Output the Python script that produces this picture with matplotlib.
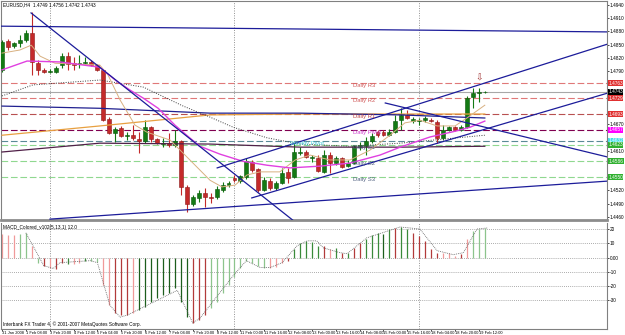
import numpy as np
import matplotlib
matplotlib.use('Agg')
import matplotlib.pyplot as plt
from matplotlib.transforms import blended_transform_factory

# EURUSD H4 candles, 31 Jan 2008 16:00 .. 19 Feb 2008 16:00
opens = [1.4793, 1.4858, 1.4847, 1.4854, 1.4860, 1.4876, 1.4808, 1.4793, 1.4788, 1.4788,
         1.4804, 1.4824, 1.4808, 1.4806, 1.4808, 1.4811, 1.4804, 1.4793, 1.4682, 1.4650,
         1.4661, 1.4643, 1.4645, 1.4636, 1.4632, 1.4663, 1.4636, 1.4625, 1.4627, 1.4623,
         1.4632, 1.4528, 1.4489, 1.4503, 1.4514, 1.4505, 1.4505, 1.4521, 1.4532, 1.4548,
         1.4541, 1.4550, 1.4584, 1.4568, 1.4521, 1.4541, 1.4525, 1.4537, 1.4562, 1.4550,
         1.4605, 1.4607, 1.4593, 1.4593, 1.4562, 1.4600, 1.4582, 1.4593, 1.4575, 1.4582,
         1.4618, 1.4620, 1.4632, 1.4652, 1.4652, 1.4645, 1.4652, 1.4679, 1.4691, 1.4677,
         1.4677, 1.4679, 1.4679, 1.4675, 1.4639, 1.4657, 1.4663, 1.4657, 1.4663, 1.4731,
         1.4740, 1.4743]
highs = [1.4860, 1.4863, 1.4856, 1.4872, 1.4883, 1.4924, 1.4815, 1.4797, 1.4795, 1.4802,
         1.4831, 1.4833, 1.4822, 1.4826, 1.4822, 1.4815, 1.4806, 1.4795, 1.4686, 1.4663,
         1.4666, 1.4652, 1.4668, 1.4652, 1.4679, 1.4666, 1.4639, 1.4639, 1.4650, 1.4657,
         1.4634, 1.4532, 1.4510, 1.4521, 1.4525, 1.4514, 1.4530, 1.4539, 1.4541, 1.4555,
         1.4555, 1.4593, 1.4589, 1.4571, 1.4550, 1.4548, 1.4541, 1.4571, 1.4571, 1.4627,
         1.4618, 1.4611, 1.4600, 1.4600, 1.4611, 1.4607, 1.4598, 1.4596, 1.4589, 1.4623,
         1.4630, 1.4641, 1.4650, 1.4657, 1.4657, 1.4659, 1.4691, 1.4706, 1.4702, 1.4686,
         1.4684, 1.4688, 1.4684, 1.4679, 1.4668, 1.4666, 1.4666, 1.4668, 1.4734, 1.4752,
         1.4752, 1.4745]
lows = [1.4788, 1.4838, 1.4842, 1.4845, 1.4856, 1.4781, 1.4781, 1.4786, 1.4786, 1.4786,
        1.4797, 1.4793, 1.4793, 1.4797, 1.4804, 1.4802, 1.4790, 1.4677, 1.4648, 1.4630,
        1.4641, 1.4634, 1.4634, 1.4605, 1.4627, 1.4630, 1.4625, 1.4618, 1.4618, 1.4618,
        1.4510, 1.4471, 1.4485, 1.4494, 1.4482, 1.4491, 1.4500, 1.4516, 1.4528, 1.4539,
        1.4537, 1.4546, 1.4562, 1.4516, 1.4519, 1.4521, 1.4521, 1.4534, 1.4537, 1.4548,
        1.4600, 1.4593, 1.4584, 1.4562, 1.4559, 1.4559, 1.4577, 1.4571, 1.4573, 1.4580,
        1.4611, 1.4600, 1.4627, 1.4641, 1.4643, 1.4643, 1.4650, 1.4657, 1.4682, 1.4673,
        1.4668, 1.4675, 1.4675, 1.4627, 1.4634, 1.4654, 1.4654, 1.4654, 1.4661, 1.4706,
        1.4720, 1.4741]
closes = [1.4856, 1.4845, 1.4854, 1.4860, 1.4876, 1.4811, 1.4793, 1.4788, 1.4790, 1.4797,
          1.4824, 1.4806, 1.4804, 1.4808, 1.4811, 1.4804, 1.4793, 1.4679, 1.4650, 1.4659,
          1.4643, 1.4645, 1.4639, 1.4632, 1.4663, 1.4636, 1.4627, 1.4627, 1.4623, 1.4632,
          1.4528, 1.4489, 1.4505, 1.4514, 1.4505, 1.4503, 1.4523, 1.4532, 1.4537, 1.4543,
          1.4553, 1.4586, 1.4566, 1.4521, 1.4543, 1.4525, 1.4537, 1.4559, 1.4548, 1.4607,
          1.4607, 1.4596, 1.4596, 1.4564, 1.4600, 1.4582, 1.4593, 1.4573, 1.4582, 1.4620,
          1.4623, 1.4632, 1.4643, 1.4645, 1.4645, 1.4652, 1.4677, 1.4691, 1.4684, 1.4682,
          1.4679, 1.4684, 1.4677, 1.4639, 1.4657, 1.4663, 1.4657, 1.4663, 1.4729, 1.4740,
          1.4743, 1.4743]

# moving averages (bar index, price)
ma_fast_idx = [0, 3, 4.9, 6.4, 8.9, 16.4, 17.8, 19.8, 22.3, 24.3, 28.2, 29.9, 32.4, 34.9, 36.9,
               39.1, 41.1, 43.3, 46.6, 49.2, 51.7, 55, 58.4, 61.7, 65.1, 67.6, 70.1, 73, 76, 78, 81]
ma_fast = [1.4831, 1.4838, 1.4849, 1.4824, 1.4808, 1.4804, 1.4781, 1.4725, 1.4668, 1.4652, 1.4634,
           1.4611, 1.4577, 1.4543, 1.4528, 1.4532, 1.4555, 1.4562, 1.4562, 1.4589, 1.4600, 1.4589,
           1.4589, 1.4611, 1.4645, 1.4673, 1.4679, 1.4666, 1.4666, 1.4684, 1.4713]
ma_mag_idx = [0, 4.2, 9.7, 16.4, 19, 21.5, 23.7, 26.2, 29, 31.5, 33.2, 36.6, 40.4, 44.5, 48.3,
              53.4, 58.4, 63.4, 66.8, 71.8, 76, 78.5, 81]
ma_mag = [1.4793, 1.4813, 1.4811, 1.4799, 1.4770, 1.4747, 1.4729, 1.4706, 1.4668, 1.4639, 1.4620,
          1.4602, 1.4586, 1.4577, 1.4571, 1.4575, 1.4582, 1.4600, 1.4618, 1.4641, 1.4654, 1.4663,
          1.4677]
ma_dot_idx = [0, 5.2, 16.4, 23.7, 30.4, 34.9, 38.8, 44.5, 50, 58.4, 66.8, 81]
ma_dot = [1.4734, 1.4759, 1.4770, 1.4754, 1.4711, 1.4686, 1.4663, 1.4639, 1.4625, 1.4620, 1.4627,
          1.4645]
ma_long_idx = [0, 16.4, 34.9, 50, 66.8, 81]
ma_orange = [1.4645, 1.4666, 1.4691, 1.4693, 1.4693, 1.4693]
ma_navy = [1.4711, 1.4706, 1.4695, 1.4695, 1.4691, 1.4684]
ma_purple = [1.4607, 1.4627, 1.4625, 1.4618, 1.4618, 1.4620]

# trend lines: (start idx, start price, end idx, end price)
trendlines = [(-0.2, 1.4892, 101.5, 1.4879),
              (4.87, 1.4922, 49.5, 1.4445),
              (8.05, 1.4455, 101.5, 1.4541),
              (36.1, 1.4571, 101.5, 1.4851),
              (41.9, 1.4503, 101.5, 1.4740),
              (64.3, 1.4718, 101.5, 1.4596)]

# pivot levels
level_names = ['Daily R3', 'Daily R2', 'Daily R1', 'Daily Pivot', 'Weekly Pivot',
               'Daily S1', 'Daily S2', 'Daily S3']
level_values = [1.4763, 1.4729, 1.4693, 1.4657, 1.4632, 1.4623, 1.4586, 1.4550]
level_label_x = [58.9, 58.9, 58.9, 58.9, 48.3, 58.9, 58.9, 58.9]
level_colors = ['#e07878', '#e07878', '#b85050', '#800050', '#5a8a96',
                '#90d890', '#90d890', '#90d890']
level_text = ['#d05a5a', '#d05a5a', '#c04848', '#d040d0', '#40c8d8',
              '#506080', '#506080', '#506080']
level_box = ['#e03030', '#e03030', '#e03030', '#ff00ff', '#40e0e8',
             '#30b030', '#30b030', '#30b030']
last_price = 1.4743

price_ticks = [1.4940, 1.4910, 1.4880, 1.4850, 1.4820, 1.4790, 1.4760, 1.4730, 1.4700,
               1.4670, 1.4640, 1.4610, 1.4580, 1.4550, 1.4520, 1.4490, 1.4460]
separators = [8, 39, 70]
time_ticks = list(range(0, 81, 4))
time_labels = ['31 Jan 2008', '1 Feb 08:00', '3 Feb 20:00', '4 Feb 12:00', '5 Feb 04:00',
               '5 Feb 20:00', '6 Feb 12:00', '7 Feb 04:00', '7 Feb 20:00', '8 Feb 12:00',
               '11 Feb 00:00', '11 Feb 16:00', '12 Feb 08:00', '13 Feb 00:00', '13 Feb 16:00',
               '14 Feb 08:00', '15 Feb 00:00', '15 Feb 16:00', '18 Feb 04:00', '18 Feb 20:00',
               '19 Feb 12:00']

# MACD histogram
macd = [16.7, 16.0, 16.0, 16.7, 17.4, 8.3, -4.0, -5.6, -7.0, -7.6,
        -3.5, -4.2, -4.2, -3.5, -2.1, -2.1, -2.8, -19.4, -33.3, -38.9,
        -40.3, -40.3, -38.9, -36.8, -34.7, -31.3, -28.5, -26.4, -25.0, -21.5,
        -31.3, -41.7, -45.8, -43.8, -40.3, -35.4, -31.3, -25.0, -19.4, -13.9,
        -6.9, -2.1, -3.5, -5.6, -6.9, -6.9, -6.3, -3.5, -2.1, 6.3,
        10.4, 11.8, 11.0, 8.3, 8.3, 6.3, 6.9, 3.5, 3.5, 6.9,
        10.4, 13.2, 16.0, 17.4, 16.7, 20.1, 20.8, 21.5, 20.1, 17.4,
        15.3, 11.8, 6.3, 3.5, 3.5, 3.5, 1.4, 2.8, 13.2, 18.8,
        20.1, 20.8]
macd_col = 'pppllplrprrgppgllpprrrpGGGGGGGGGrrrllllllllllppprgggggrpgrgrrgggGgrggrrrrrppprplllll'
signal_idx = [4, 5.2, 7, 8.6, 9.7, 14.8, 16, 18.1, 19.8, 21, 29.4, 32, 33.2, 38.8, 41, 43.3, 45,
              47, 49.5, 51.2, 52.8, 53.9, 56.7, 57.9, 61.2, 66.8, 70.1, 73, 75.7, 77.4, 79.7, 81.4]
signal = [17.4, 8.3, -5.6, -7.6, -3.5, -2.1, -3.5, -33.3, -41.7, -40.3, -22.9, -45.8, -42.4, -12.5,
          -2.1, -6.9, -6.9, -3.5, 8.3, 11.8, 11.8, 6.9, 3.5, 2.8, 13.9, 21.5, 20.1, 4.9, 2.1, 3.5,
          20.1, 20.8]
macd_ticks = [20, 10, 0, -10, -20, -30]
macd_tick_labels = ['20', '10', '0.00', '-10', '-20', '-30']

plt.rcParams['font.family'] = ['Liberation Sans Narrow', 'Liberation Sans', 'DejaVu Sans']
FS = 3.4
xlo, xhi = -0.17, 101.5

fig = plt.figure(figsize=(6.25, 3.35), dpi=100)
ax = fig.add_axes([1 / 625, 1 - 220 / 335, 606 / 625, 219 / 335])
ax2 = fig.add_axes([1 / 625, 1 - 329 / 335, 606 / 625, 106 / 335])

# ---- price window ----
for v, c in zip(level_values, level_colors):
    ax.axhline(v, color=c, lw=0.8, ls=(0, (6, 2.5)), zorder=1)
ax.axhline(last_price, color='#a8a8a8', lw=0.8, zorder=1)
for s in separators:
    ax.axvline(s, color='#909090', lw=0.7, ls=(0, (1, 1.5)), zorder=1)

idx = np.arange(len(opens))
o = np.array(opens); c = np.array(closes)
up = c >= o
body_lo = np.minimum(o, c)
body_h = np.maximum(np.abs(c - o), 0.00008)
for m, fc, ec in [(up, '#137a13', '#0b560b'), (~up, '#c42a2a', '#8c1a1a')]:
    ax.vlines(idx[m], np.array(lows)[m], np.array(highs)[m], color=fc, lw=0.8, zorder=3)
    ax.bar(idx[m], body_h[m], bottom=body_lo[m], width=0.66, color=fc, edgecolor=ec,
           lw=0.4, zorder=3)

ax.plot(ma_long_idx, ma_orange, color='#e8a040', lw=0.9, zorder=4)
ax.plot(ma_long_idx, ma_navy, color='#202090', lw=0.9, zorder=4)
ax.plot(ma_long_idx, ma_purple, color='#502048', lw=0.9, zorder=4)
ax.plot(ma_dot_idx, ma_dot, color='#404040', lw=0.7, ls=(0, (1, 1.5)), zorder=4)
ax.plot(ma_fast_idx, ma_fast, color='#d8b080', lw=0.7, zorder=4)
ax.plot(ma_mag_idx, ma_mag, color='#e040e0', lw=1.0, zorder=4)

for x0, y0, x1, y1 in trendlines:
    ax.plot([x0, x1], [y0, y1], color='#1c1c9a', lw=0.9, zorder=5)

for name, v, xt, tc in zip(level_names, level_values, level_label_x, level_text):
    ax.text(xt, v - 0.00005, name, color=tc, fontsize=FS + 0.8, va='top', ha='left', zorder=6)

ax.text(80, 1.4774, '\u21e9', color='#a03030', fontsize=6.5, ha='center', va='center',
        zorder=6, family='DejaVu Sans')

ax.text(0.004, 0.995, 'EURUSD,H4  1.4749 1.4756 1.4742 1.4743', transform=ax.transAxes,
        fontsize=FS, va='top', ha='left', color='black')

# tick labels that sit under a level box are hidden by it, as in the terminal
box_levels = level_values + [last_price]
shown_ticks = [t for t in price_ticks if min(abs(t - b) for b in box_levels) > 0.00095]

ax.set_xlim(xlo, xhi)
ax.set_ylim(1.4453, 1.4949)
ax.yaxis.tick_right()
ax.set_yticks(shown_ticks)
ax.set_yticklabels(['%.4f' % t for t in shown_ticks], fontsize=FS)
ax.tick_params(axis='y', length=1.2, width=0.5, pad=0.8, colors='black')
ax.set_xticks([])

tr = blended_transform_factory(ax.transAxes, ax.transData)
for v, bc in zip(box_levels, level_box + ['black']):
    ax.text(1.002, v, '%.4f' % v, transform=tr, fontsize=FS, color='white', va='center',
            ha='left', zorder=7, clip_on=False,
            bbox=dict(boxstyle='square,pad=0.1', fc=bc, ec='none'))

for sp in ax.spines.values():
    sp.set_color('#808080')
    sp.set_linewidth(0.8)
ax.spines['bottom'].set_linewidth(2.0)
ax.spines['bottom'].set_color('#8c8c8c')

# ---- MACD window ----
for t in macd_ticks:
    ax2.axhline(t, color='#909090', lw=0.6, ls=(0, (1, 1.5)), zorder=1)
for s in separators:
    ax2.axvline(s, color='#909090', lw=0.7, ls=(0, (1, 1.5)), zorder=1)
cmap = {'r': '#b23a3a', 'p': '#f09a9a', 'g': '#3a8a3a', 'G': '#1c5e1c', 'l': '#8cc48c'}
ax2.vlines(np.arange(len(macd)), 0, macd, colors=[cmap[k] for k in macd_col], lw=0.9, zorder=2)
ax2.plot(signal_idx, signal, color='#606060', lw=0.6, ls=(0, (1, 1.2)), zorder=3)

ax2.text(0.004, 0.985, 'MACD_Colored_v102(5,13,1) 12.0', transform=ax2.transAxes,
         fontsize=FS, va='top', ha='left')
ax2.text(0.004, 0.02, 'Interbank FX Trader 4, \u00a9 2001-2007 MetaQuotes Software Corp.',
         transform=ax2.transAxes, fontsize=FS, va='bottom', ha='left')

ax2.set_xlim(xlo, xhi)
ax2.set_ylim(-50.0, 24.3)
ax2.yaxis.tick_right()
ax2.set_yticks(macd_ticks)
ax2.set_yticklabels(macd_tick_labels, fontsize=FS)
ax2.tick_params(axis='y', length=1.2, width=0.5, pad=0.8)
ax2.set_xticks(time_ticks)
ax2.set_xticklabels(time_labels, fontsize=2.9, ha='left')
ax2.tick_params(axis='x', length=1.2, width=0.5, pad=0.3)
for sp in ax2.spines.values():
    sp.set_color('#808080')
    sp.set_linewidth(0.8)
ax2.spines['top'].set_visible(False)

fig.savefig('out.png', dpi=100, facecolor='white')
